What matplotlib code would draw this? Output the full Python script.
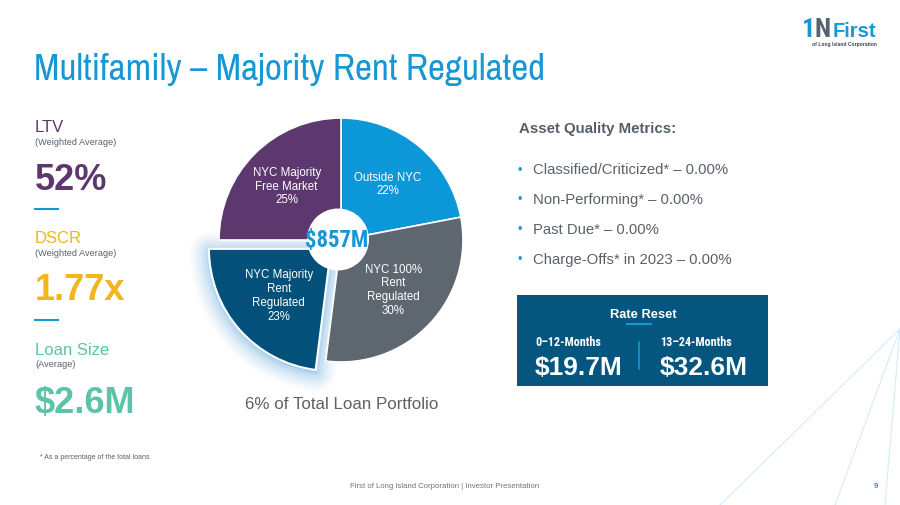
import matplotlib
matplotlib.use("Agg")
import numpy as np
import matplotlib.pyplot as plt
from matplotlib.patches import Rectangle, Circle, Wedge
from matplotlib.textpath import TextPath
from matplotlib.font_manager import FontProperties, findfont

plt.rcParams['font.family'] = ['Liberation Sans', 'DejaVu Sans']

# ---------------- data ----------------
title = "Multifamily \u2013 Majority Rent Regulated"
segment_labels = ["Outside NYC", "NYC 100%\nRent\nRegulated",
                  "NYC Majority\nRent\nRegulated", "NYC Majority\nFree Market"]
segment_shares = [22, 30, 23, 25]
total_label = "$857M"
portfolio_note = "6% of Total Loan Portfolio"

metric_names = ["LTV", "DSCR", "Loan Size"]
metric_subs = ["(Weighted Average)", "(Weighted Average)", "(Average)"]
metric_values = ["52%", "1.77x", "$2.6M"]

quality_title = "Asset Quality Metrics:"
quality_items = ["Classified/Criticized* \u2013 0.00%",
                 "Non-Performing* \u2013 0.00%",
                 "Past Due* \u2013 0.00%",
                 "Charge-Offs* in 2023 \u2013 0.00%"]

reset_title = "Rate Reset"
reset_periods = ["0\u201312-Months", "13\u201324-Months"]
reset_values = ["$19.7M", "$32.6M"]

footnote = "* As a percentage of the total loans"
footer = "First of Long Island Corporation | Investor Presentation"
page_no = "9"

# ---------------- style ----------------
BLUE = "#1797D5"
GRAY_TXT = "#5A6169"
seg_colors = ["#0B97D8", "#5E6670", "#03507A", "#5D386F"]
seg_explode = [0, 0, 0.11, 0]
seg_label_dist = [0.60, 0.59, 0.57, 0.63]
metric_colors = ["#5D386F", "#F2B51C", "#5CC2A8"]

NARROW_REGULAR = ['Archivo Narrow', 'Roboto Condensed']
NARROW_BOLD = ['Roboto Condensed', 'Archivo Narrow']


def available(fam):
    try:
        findfont(FontProperties(family=fam), fallback_to_default=False)
        return True
    except Exception:
        return False


def narrow_font(text, weight, target_w):
    """first available condensed family, sized (pt) so the text spans target_w px."""
    cands = NARROW_BOLD if weight == 'bold' else NARROW_REGULAR
    for fam in cands:
        if available(fam):
            fp = FontProperties(family=fam, weight=weight)
            w = TextPath((0, 0), text, size=10, prop=fp).get_extents().width
            return [fam, 'DejaVu Sans'], 10 * target_w / w * 72 / 100
    return ['DejaVu Sans'], 16


fig = plt.figure(figsize=(9, 5.06), dpi=100)
bg = fig.add_axes([0, 0, 1, 1])
bg.set_xlim(0, 900)
bg.set_ylim(506, 0)
bg.axis('off')

# decorative lines bottom right
for xe in [720, 835, 885]:
    bg.plot([900, xe], [330, 506], color="#D3ECF9", lw=0.8, zorder=0)

# title
tfam, tsize = narrow_font(title, 'normal', 507)
bg.text(34, 80, title, family=tfam, fontsize=tsize, color=BLUE, va='baseline', ha='left')

# logo
COND = ['Roboto Condensed', 'DejaVu Sans']
bg.text(802, 37, "1", family=COND, fontweight='bold', fontsize=19, color=BLUE, va='baseline')
bg.text(815, 37, "N", family=COND, fontweight='bold', fontsize=19, color="#56636E", va='baseline')
bg.text(833, 37, "First", fontweight='bold', fontsize=14.5, color=BLUE, va='baseline')
bg.text(877, 46, "of Long Island Corporation", fontsize=3.6, fontweight='bold',
        color="#3B4650", va='baseline', ha='right')

# left metrics
name_base = [132, 243, 355]
sub_base = [145, 256, 367]
val_base = [190, 300, 413]
for i in range(3):
    bg.text(35, name_base[i], metric_names[i], fontsize=12, color=metric_colors[i], va='baseline')
    bg.text(35, sub_base[i], metric_subs[i], fontsize=6.6, color=GRAY_TXT, va='baseline')
    bg.text(35, val_base[i], metric_values[i], fontsize=26, fontweight='bold',
            color=metric_colors[i], va='baseline')
for y in [210, 321]:
    bg.plot([35, 58], [y, y], color=BLUE, lw=1.5)
bg.text(40, 459, footnote, fontsize=5, color=GRAY_TXT, va='baseline')

# pie
cx, cy, R = 341, 241, 122
S = 170
pax = fig.add_axes([(cx - S) / 900, (506 - cy - S) / 506, 2 * S / 900, 2 * S / 506])
wedges, _ = pax.pie(segment_shares, colors=seg_colors, startangle=90, counterclock=False,
                    explode=seg_explode, radius=1,
                    wedgeprops=dict(edgecolor='white', linewidth=1.2))
pax.set_xlim(-S / R, S / R)
pax.set_ylim(-S / R, S / R)
pax.set_aspect('equal')
pax.axis('off')

# glow behind exploded wedge
w = wedges[2]
w.set_linewidth(1.5)
w.set_zorder(3)
gx, gy = w.center
for lw_, a in [(28, 0.05), (24, 0.06), (20, 0.08), (16, 0.1), (12, 0.13), (8, 0.18), (4, 0.28)]:
    g = Wedge((gx + 0.004, gy - 0.02), w.r, w.theta1, w.theta2, facecolor="#8CC3E8",
              edgecolor="#8CC3E8", linewidth=lw_, alpha=a, zorder=0.5, joinstyle='round')
    pax.add_patch(g)
for i, wd in enumerate(wedges):
    if i != 2:
        wd.set_zorder(2)

for i, wd in enumerate(wedges):
    ang = np.deg2rad((wd.theta1 + wd.theta2) / 2)
    ox, oy = wd.center
    d = seg_label_dist[i]
    pax.text(ox + d * np.cos(ang), oy + d * np.sin(ang),
             f"{segment_labels[i]}\n{segment_shares[i]}%", ha='center', va='center',
             fontsize=8.3, color='white', linespacing=1.2, zorder=6)

pax.add_patch(Circle((-3 / R, 0.5 / R), 31 / R, facecolor='white', edgecolor='none', zorder=5))
cfam, csize = narrow_font(total_label, 'bold', 61)
pax.text(-4 / R, 0.5 / R, total_label, family=cfam, fontweight='bold', fontsize=csize,
         color=BLUE, ha='center', va='center', zorder=6)

bg.text(342, 409, portfolio_note, fontsize=12.2, color=GRAY_TXT, ha='center', va='baseline')

# right side metrics
bg.text(519, 133, quality_title, fontsize=10.8, fontweight='bold', color="#555F69", va='baseline')
q_base = [174, 204, 234, 264]
for yb, item in zip(q_base, quality_items):
    bg.text(518, yb - 0.5, "\u2022", fontsize=9, color=BLUE, va='baseline')
    bg.text(533, yb, item, fontsize=10.7, color=GRAY_TXT, va='baseline')

bg.add_patch(Rectangle((517, 296), 251, 91, facecolor="#04567F", edgecolor='none'))
bg.text(643, 318, reset_title, fontsize=9.3, fontweight='bold', color='white',
        ha='center', va='baseline')
bg.plot([627, 651], [325, 325], color=BLUE, lw=1.5)
bg.plot([639, 639], [343, 370], color=BLUE, lw=1.2)
for xl, per, val, tw in zip([535, 660], reset_periods, reset_values, [65, 71]):
    pfam, psize = narrow_font(per, 'bold', tw)
    bg.text(xl, 346, per, family=pfam, fontweight='bold', fontsize=psize, color='white', va='baseline')
    bg.text(xl, 375, val, fontweight='bold', fontsize=19, color='white', va='baseline')

# footer
bg.text(445, 488, footer, fontsize=5.6, color="#6D737A", ha='center', va='baseline')
bg.text(876, 488, page_no, fontsize=5.6, fontweight='bold', color=BLUE, ha='center', va='baseline')

fig.savefig("out.png", dpi=100)
